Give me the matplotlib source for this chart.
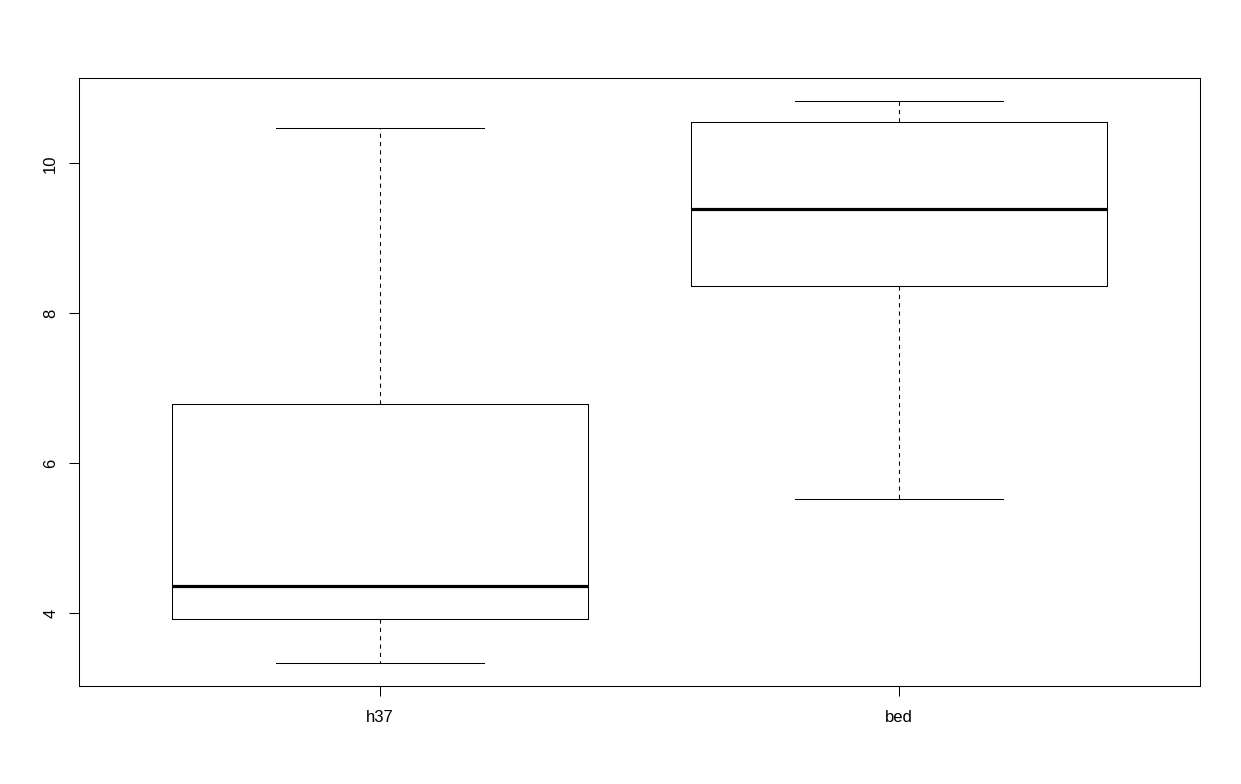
import matplotlib.pyplot as plt

groups = ["h37", "bed"]
whislo = [3.33, 5.53]
q1 = [3.92, 8.36]
med = [4.37, 9.39]
q3 = [6.79, 10.56]
whishi = [10.47, 10.84]

plt.rcParams['font.family'] = ['Liberation Sans', 'DejaVu Sans']

stats = []
for i, g in enumerate(groups):
    stats.append(dict(label=g, whislo=whislo[i], q1=q1[i], med=med[i],
                      q3=q3[i], whishi=whishi[i], fliers=[]))

fig = plt.figure(figsize=(12.41, 7.84), dpi=100)
ax = fig.add_axes([79/1241, 1-686/784, 1121/1241, 608/784])

ax.bxp(stats, positions=[1, 2], widths=0.8, showfliers=False,
       boxprops=dict(color='black', linewidth=0.75),
       medianprops=dict(color='black', linewidth=2.3, solid_capstyle='butt'),
       whiskerprops=dict(color='black', linewidth=0.75, linestyle=(0, (4, 4))),
       capprops=dict(color='black', linewidth=0.75),
       capwidths=0.4)

lo = min(whislo); hi = max(whishi)
pad = 0.04 * (hi - lo)
ax.set_ylim(lo - pad, hi + pad)
ax.set_xlim(0.42, 2.58)
ax.set_yticks([4, 6, 8, 10])
ax.set_yticklabels(["4", "6", "8", "10"], rotation=90, va='center')
ax.set_xticks([1, 2])
ax.set_xticklabels(groups)
ax.tick_params(direction='out', length=7, width=0.75, labelsize=12)
ax.tick_params(axis='y', pad=8)
ax.tick_params(axis='x', pad=10)
for s in ax.spines.values():
    s.set_linewidth(0.75)

fig.savefig("out.png", dpi=100)
